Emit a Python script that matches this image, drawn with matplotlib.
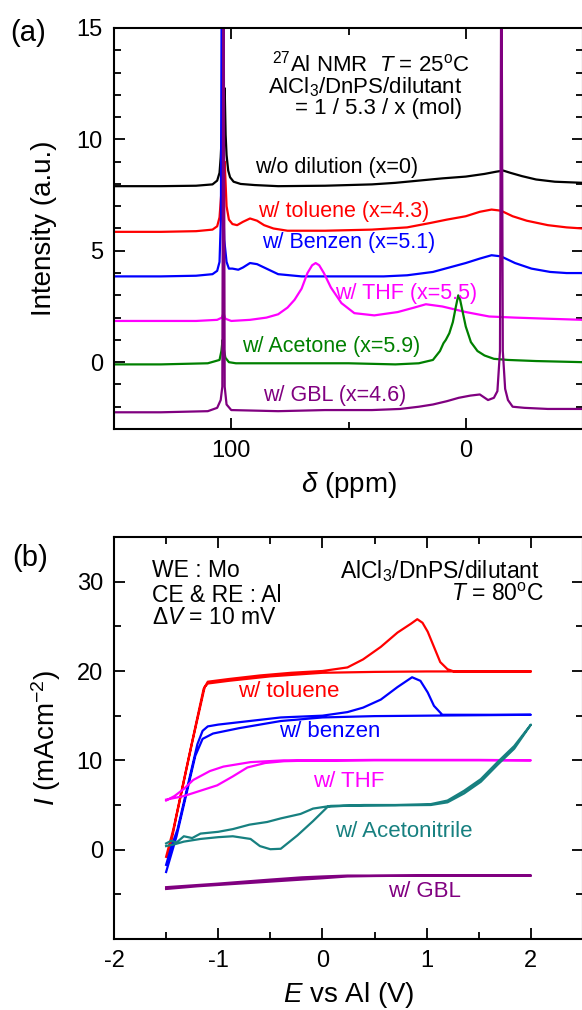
import matplotlib
matplotlib.use('Agg')
import matplotlib.pyplot as plt
from matplotlib.ticker import MultipleLocator

plt.rcParams['font.family'] = ['Liberation Sans', 'DejaVu Sans']
plt.rcParams['mathtext.fontset'] = 'custom'
plt.rcParams['mathtext.rm'] = 'Liberation Sans'
plt.rcParams['mathtext.it'] = 'Liberation Sans:italic'
plt.rcParams['mathtext.bf'] = 'Liberation Sans:bold'
plt.rcParams['axes.unicode_minus'] = False

# ---- (a) 27Al NMR spectra (offset intensities) ----
ppm_black = [150, 130, 115, 108, 106, 105, 104.5, 104, 103.6, 103.2, 102.8, 102.4, 102, 101.3, 100.5, 99, 96, 90, 80,
             60, 40, 30, 20, 10, 0, -8, -13, -16, -19, -24, -30, -38, -50]
int_black = [7.9, 7.9, 7.92, 7.98, 8.15, 8.5, 9.2, 10.3, 12.9, 11.8, 12.3, 10.2, 9.3, 8.6, 8.3, 8.1, 8.0, 7.95, 7.9,
             7.92, 7.98, 8.05, 8.15, 8.25, 8.33, 8.45, 8.55, 8.6, 8.5, 8.35, 8.2, 8.1, 8.05]

ppm_red = [150, 130, 115, 108, 106, 105, 104.3, 103.8, 103.3, 102.8, 102, 101, 99.5, 97.5, 95, 92, 89, 86, 82, 76,
           60, 40, 25, 15, 8, 0, -6, -11, -15, -20, -26, -35, -43, -50]
int_red = [5.85, 5.85, 5.88, 5.95, 6.1, 6.5, 7.5, 9.5, 8.3, 9.0, 7.0, 6.4, 6.2, 6.15, 6.3, 6.45, 6.35, 6.15, 6.0, 5.9,
           5.9, 5.95, 6.05, 6.25, 6.4, 6.55, 6.75, 6.85, 6.8, 6.55, 6.35, 6.15, 6.05, 6.0]

ppm_blue = [150, 130, 115, 108, 106, 105, 104.4, 104, 103.6, 103, 102, 101, 99.5, 97, 95, 92, 89, 85, 80, 70,
            50, 35, 25, 14, 7, 0, -6, -11, -15, -21, -28, -36, -43, -50]
int_blue = [3.85, 3.85, 3.88, 3.95, 4.1, 4.5, 6.5, 20.0, 8.0, 5.5, 4.5, 4.2, 4.2, 4.15, 4.25, 4.45, 4.4, 4.2, 3.95, 3.85,
            3.85, 3.85, 3.9, 4.05, 4.25, 4.45, 4.65, 4.8, 4.75, 4.45, 4.2, 4.05, 4.0, 4.0]

ppm_mag = [150, 130, 115, 106, 104, 103.3, 102.5, 100, 92, 85, 80, 76, 73, 70, 67.5, 65.5, 64, 62.5, 60.5, 57.5,
           53, 47.5, 39, 29, 22, 17, 10, 0, -10, -21, -35, -50]
int_mag = [1.85, 1.85, 1.85, 1.9, 2.0, 2.2, 1.95, 1.85, 1.9, 2.0, 2.15, 2.45, 2.8, 3.3, 4.0, 4.35, 4.45, 4.35, 4.0, 3.35,
           2.65, 2.2, 2.1, 2.25, 2.45, 2.6, 2.5, 2.25, 2.05, 2.0, 1.95, 1.9]

ppm_green = [150, 130, 110, 105, 104.2, 103.7, 103.2, 102.5, 101, 98, 80, 50, 30, 20, 14, 11, 9.5, 8.5, 7, 5.5,
             4.2, 3.2, 2.4, 1.2, 0, -2.2, -5, -8, -12, -18, -30, -50]
int_green = [-0.1, -0.1, -0.05, 0.1, 0.5, 1.0, 0.6, 0.2, 0.0, -0.05, -0.05, -0.05, -0.1, -0.05, 0.1, 0.5, 0.85, 1.0, 1.3, 1.8,
             2.5, 3.0, 2.8, 2.2, 1.6, 0.9, 0.5, 0.3, 0.15, 0.1, 0.05, 0.0]

ppm_purple = [150, 130, 110, 106, 104.5, 103.8, 103.3, 102.8, 102, 100, 80, 60, 40, 28, 20, 14, 8, 3, -2, -6,
              -9.5, -12, -13.5, -14.6, -15.2, -15.8, -16.8, -18, -20, -25, -35, -50]
int_purple = [-2.25, -2.25, -2.2, -2.05, -1.7, -1.1, 20.0, -1.1, -1.9, -2.15, -2.2, -2.15, -2.15, -2.1, -2.0, -1.9, -1.75, -1.6, -1.5, -1.45,
              -1.7, -1.6, -1.3, 0.5, 20.0, 0.5, -1.2, -1.7, -2.0, -2.05, -2.1, -2.1]

nmr_labels = ['w/o dilution (x=0)', 'w/ toluene (x=4.3)', 'w/ Benzen (x=5.1)',
              'w/ THF (x=5.5)', 'w/ Acetone (x=5.9)', 'w/ GBL (x=4.6)']
nmr_colors = ['black', '#ff0000', '#0000ff', '#ff00ff', '#008000', '#800080']
nmr_label_pos = [(89.9, 8.75), (88.6, 6.75), (86.9, 5.35), (55.8, 3.1), (95.4, 0.7), (86.5, -1.5)]

# ---- (b) cyclic voltammograms ----
E_tol = [-1.5, -1.43, -1.3, -1.2, -1.14, -1.1, -0.9, -0.6, -0.3, 0.0, 0.24, 0.39, 0.56, 0.72, 0.85, 0.91, 0.96, 1.01,
         1.07, 1.13, 1.20, 1.26, 1.6, 2.0, 1.5, 1.0, 0.5, 0.0, -0.5, -0.9, -1.1, -1.13, -1.25, -1.4, -1.48]
I_tol = [-0.8, 2.3, 9.4, 14.8, 18.0, 18.8, 19.1, 19.5, 19.8, 20.0, 20.4, 21.3, 22.7, 24.3, 25.3, 25.8, 25.4, 24.4,
         22.7, 21.0, 20.2, 19.95, 19.95, 19.95, 19.95, 19.95, 19.9, 19.8, 19.4, 18.9, 18.6, 18.2, 12.0, 3.8, -0.8]

E_ben = [-1.5, -1.45, -1.39, -1.3, -1.2, -1.15, -1.1, -1.0, -0.7, -0.4, 0.0, 0.24, 0.39, 0.56, 0.72, 0.86, 0.94, 1.01,
         1.07, 1.15, 1.5, 2.0, 1.5, 1.0, 0.5, 0.0, -0.4, -0.8, -1.05, -1.15, -1.22, -1.3, -1.4, -1.5]
I_ben = [-1.7, 0.3, 2.3, 6.8, 11.8, 13.3, 13.8, 14.0, 14.4, 14.8, 15.0, 15.4, 15.9, 16.8, 18.2, 19.3, 18.9, 17.6,
         16.1, 15.1, 15.1, 15.1, 15.05, 15.0, 14.95, 14.8, 14.4, 13.6, 13.0, 12.4, 10.5, 6.5, 1.5, -2.5]

E_thf = [-1.5, -1.33, -1.17, -1.01, -0.86, -0.72, -0.55, -0.37, -0.2, 0.5, 1.0, 1.5, 2.0, 1.5, 1.0, 0.5, 0.0,
         -0.37, -0.69, -0.95, -1.08, -1.24, -1.33, -1.42, -1.5]
I_thf = [5.6, 6.0, 6.6, 7.2, 8.2, 9.2, 9.7, 9.9, 9.95, 10.0, 10.0, 10.0, 10.0, 10.05, 10.05, 10.05, 10.0,
         10.0, 9.8, 9.3, 8.8, 7.8, 6.8, 6.0, 5.5]

E_ace = [-1.5, -1.45, -1.4, -1.33, -1.25, -1.17, -1.0, -0.86, -0.7, -0.53, -0.4, -0.21, -0.09, 0.08, 0.4, 0.7, 1.04,
         1.2, 1.36, 1.52, 1.68, 1.84, 2.0, 1.84, 1.68, 1.52, 1.36, 1.2, 1.04, 0.6, 0.2, 0.05, -0.09, -0.24, -0.4,
         -0.5, -0.6, -0.69, -0.86, -1.0, -1.17, -1.33, -1.42, -1.5]
I_ace = [0.7, 1.0, 0.8, 1.5, 1.3, 1.8, 2.0, 2.3, 2.8, 3.1, 3.5, 4.0, 4.6, 4.9, 5.0, 5.0, 5.1,
         5.5, 6.6, 7.9, 9.8, 11.6, 14.0, 11.3, 9.5, 7.6, 6.3, 5.3, 5.0, 4.95, 4.9, 4.8, 3.2, 1.6, 0.1,
         0.05, 0.4, 1.2, 1.5, 1.4, 1.2, 0.9, 0.6, 0.4]

E_gbl = [-1.5, -1.0, -0.5, -0.2, 0.0, 0.24, 0.6, 1.0, 1.5, 2.0, 1.5, 1.0, 0.5, 0.24, 0.0, -0.4, -0.8, -1.2, -1.5]
I_gbl = [-4.2, -3.8, -3.35, -3.1, -3.0, -2.9, -2.9, -2.9, -2.9, -2.9, -2.9, -2.9, -2.95, -3.0, -3.2, -3.5, -3.8, -4.1, -4.4]

cv_labels = ['w/ toluene', 'w/ benzen', 'w/ THF', 'w/ Acetonitrile', 'w/ GBL']
cv_colors = ['#ff0000', '#0000ff', '#ff00ff', '#178080', '#800080']
cv_label_pos = [(-0.81, 17.7), (-0.42, 13.2), (-0.09, 7.6), (0.125, 2.0), (0.625, -4.7)]

W, H = 582, 1010
fig = plt.figure(figsize=(W / 100, H / 100), dpi=100)
ax1 = fig.add_axes([114 / W, 581 / H, 469 / W, 401 / H])
ax2 = fig.add_axes([114 / W, 71 / H, 469 / W, 402 / H])

# panel (a)
spectra = [(ppm_black, int_black), (ppm_red, int_red), (ppm_blue, int_blue),
           (ppm_mag, int_mag), (ppm_green, int_green), (ppm_purple, int_purple)]
for (x, y), c in zip(spectra, nmr_colors):
    ax1.plot(x, y, color=c, lw=1.6)
for lab, c, (x, y) in zip(nmr_labels, nmr_colors, nmr_label_pos):
    ax1.text(x, y, lab, color=c, fontsize=15.5, ha='left', va='center')
ax1.text(82.6, 13.4, r'$^{27}$Al NMR  $T$ = 25$^{\rm o}$C', fontsize=16, ha='left', va='center')
ax1.text(84.3, 12.35, r'AlCl$_3$/DnPS/dilutant', fontsize=16, ha='left', va='center')
ax1.text(72.8, 11.4, '= 1 / 5.3 / x (mol)', fontsize=16, ha='left', va='center')
ax1.set_xlim(150, -50)
ax1.set_ylim(-3, 15)
ax1.xaxis.set_major_locator(MultipleLocator(100))
ax1.xaxis.set_minor_locator(MultipleLocator(50))
ax1.yaxis.set_major_locator(MultipleLocator(5))
ax1.yaxis.set_minor_locator(MultipleLocator(1))
ax1.set_xlabel(r'$\delta$ (ppm)', fontsize=20, labelpad=6)
ax1.set_ylabel('Intensity (a.u.)', fontsize=20, labelpad=14)
fig.text(10 / W, 1 - 33 / H, '(a)', fontsize=21, ha='left', va='center')

# panel (b)
curves = [(E_tol, I_tol), (E_ben, I_ben), (E_thf, I_thf), (E_ace, I_ace), (E_gbl, I_gbl)]
for (x, y), c in zip(curves, cv_colors):
    ax2.plot(x, y, color=c, lw=1.6)
for lab, c, (x, y) in zip(cv_labels, cv_colors, cv_label_pos):
    ax2.text(x, y, lab, color=c, fontsize=16, ha='left', va='center')
ax2.text(-1.64, 31.2, 'WE : Mo', fontsize=16.5, ha='left', va='center')
ax2.text(-1.64, 28.4, 'CE & RE : Al', fontsize=16.5, ha='left', va='center')
ax2.text(-1.64, 26.0, r'$\Delta V$ = 10 mV', fontsize=16.5, ha='left', va='center')
ax2.text(2.09, 31.2, r'AlCl$_3$/DnPS/dilutant', fontsize=16.5, ha='right', va='center')
ax2.text(2.125, 28.6, r'$T$ = 80$^{\rm o}$C', fontsize=16.5, ha='right', va='center')
ax2.set_xlim(-2, 2.5)
ax2.set_ylim(-10, 35)
ax2.set_xticks([-2, -1, 0, 1, 2])
ax2.xaxis.set_minor_locator(MultipleLocator(0.5))
ax2.set_yticks([0, 10, 20, 30])
ax2.yaxis.set_minor_locator(MultipleLocator(5))
ax2.set_xlabel(r'$E$ vs Al (V)', fontsize=20, labelpad=6)
ax2.set_ylabel(r'$I$ (mAcm$^{-2}$)', fontsize=20, labelpad=10)
fig.text(12 / W, 1 - 558 / H, '(b)', fontsize=21, ha='left', va='center')

for ax in (ax1, ax2):
    for s in ax.spines.values():
        s.set_linewidth(1.5)
    ax.tick_params(which='both', direction='in', top=True, right=True, width=1.3, labelsize=17)
    ax.tick_params(which='major', length=8, pad=8)
    ax.tick_params(which='minor', length=5)

fig.savefig('out.png', dpi=100)
